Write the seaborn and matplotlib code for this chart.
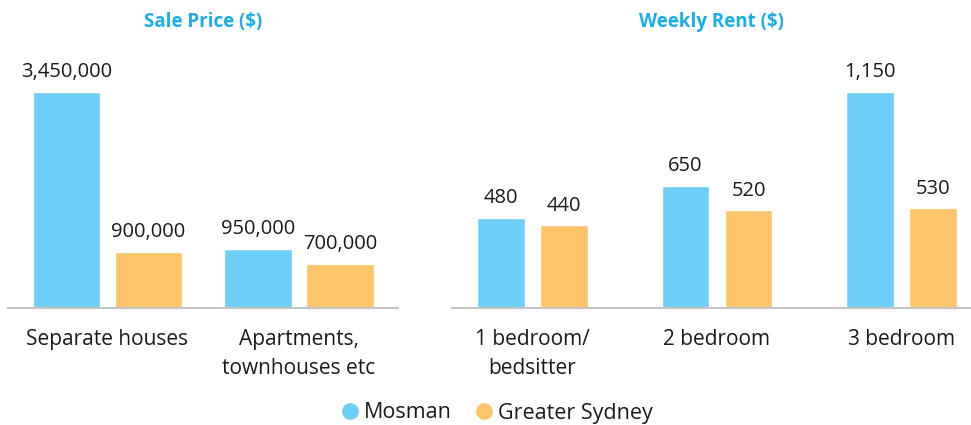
import matplotlib
matplotlib.use("Agg")
import matplotlib.pyplot as plt
from matplotlib.lines import Line2D
import seaborn as sns
import pandas as pd

# data
areas = ["Mosman", "Greater Sydney"]
sale_types = ["Separate houses", "Apartments,\ntownhouses etc"]
sale_mosman = [3450000, 950000]
sale_sydney = [900000, 700000]
rent_types = ["1 bedroom/\nbedsitter", "2 bedroom", "3 bedroom"]
rent_mosman = [480, 650, 1150]
rent_sydney = [440, 520, 530]

colors = {"Mosman": "#6DCFF6", "Greater Sydney": "#FDC46A"}
title_color = "#1AADE9"
text_color = "#1A1A1A"

sns.set_theme(style="white")
plt.rcParams["font.family"] = ["Open Sans", "DejaVu Sans"]

sale_df = pd.DataFrame({
    "type": sale_types * 2,
    "area": [areas[0]] * 2 + [areas[1]] * 2,
    "value": sale_mosman + sale_sydney,
})
rent_df = pd.DataFrame({
    "type": rent_types * 2,
    "area": [areas[0]] * 3 + [areas[1]] * 3,
    "value": rent_mosman + rent_sydney,
})

fig = plt.figure(figsize=(9.71, 4.25), dpi=100)
ax1 = fig.add_axes([8 / 971, 117 / 425, 390 / 971, 268 / 425])
ax2 = fig.add_axes([452 / 971, 117 / 425, 518 / 971, 268 / 425])


def draw(ax, df, width, gap, ymax, xlim, title):
    sns.barplot(data=df, x="type", y="value", hue="area", palette=colors,
                width=width, gap=gap, saturation=1, ax=ax, legend=False)
    for c in ax.containers:
        ax.bar_label(c, labels=[f"{v:,.0f}" for v in c.datavalues],
                     padding=7, fontsize=14.5, color=text_color)
    ax.set_ylim(0, ymax)
    ax.set_xlim(*xlim)
    ax.set_xlabel("")
    ax.set_ylabel("")
    ax.set_yticks([])
    for s in ["top", "right", "left"]:
        ax.spines[s].set_visible(False)
    ax.spines["bottom"].set_color("#C4C4C4")
    ax.spines["bottom"].set_linewidth(1.5)
    ax.tick_params(axis="x", length=0, pad=15, labelsize=15, colors=text_color)
    for lbl in ax.get_xticklabels():
        lbl.set_linespacing(1.5)
    ax.set_title(title, fontsize=13.5, fontweight="bold", color=title_color, pad=9)


draw(ax1, sale_df, 0.856, 0.18, 4.28e6, (-0.52, 1.517), "Sale Price ($)")
draw(ax2, rent_df, 0.683, 0.24, 1427, (-0.436, 2.371), "Weekly Rent ($)")

handles = [Line2D([], [], marker="o", linestyle="", markersize=11,
                  markerfacecolor=colors[a], markeredgecolor=colors[a], label=a)
           for a in areas]
fig.legend(handles=handles, loc="center", bbox_to_anchor=(496 / 971, 12 / 425),
           ncol=2, frameon=False, fontsize=15.5, handletextpad=0.15,
           handlelength=1.0, columnspacing=1.0, labelcolor=text_color)

fig.savefig("out.png", dpi=100)
